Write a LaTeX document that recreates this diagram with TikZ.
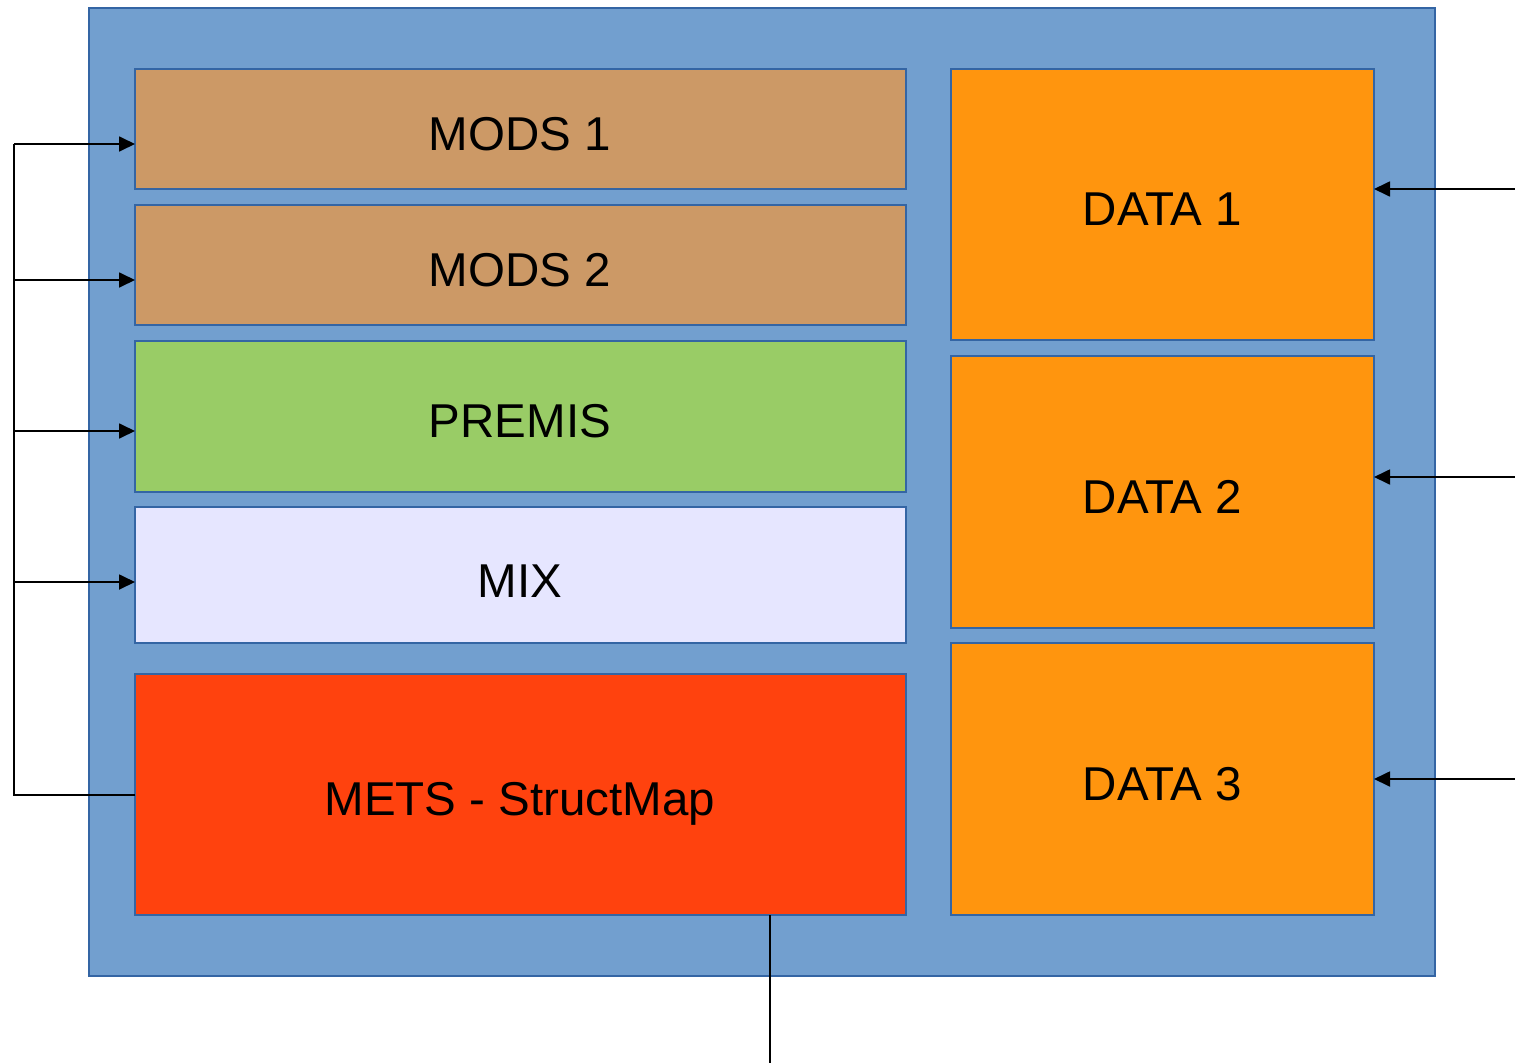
\documentclass[tikz,border=0pt]{standalone}
\usepackage{fontspec}
\setmainfont{Liberation Sans}
\usetikzlibrary{arrows.meta}
\definecolor{outerc}{HTML}{729FCF}
\definecolor{borderc}{HTML}{3465A4}
\definecolor{modsc}{HTML}{CC9966}
\definecolor{premisc}{HTML}{99CC66}
\definecolor{mixc}{HTML}{E6E6FF}
\definecolor{metsc}{HTML}{FF420E}
\definecolor{datac}{HTML}{FF950E}
\begin{document}
\begin{tikzpicture}[x=1pt,y=-1pt,
  box/.style={draw=borderc, line width=1.5pt, rectangle, inner sep=0pt, outer sep=0pt},
  lbl/.style={anchor=base, inner sep=0pt, font=\fontsize{47.5}{57}\selectfont},
  conn/.style={draw=black, line width=1.8pt},
  arr/.style={conn, -{Triangle[length=16pt,width=15pt]}}]
\useasboundingbox (0,0) rectangle (1515,1063);
\node[box, draw=borderc, line width=2pt, fill=outerc, minimum width=1346, minimum height=968] (outer) at (762,492) {};
% left column
\node[box, fill=modsc, minimum width=771, minimum height=120] (mods1) at (520.5,129) {};
\node[box, fill=modsc, minimum width=771, minimum height=120] (mods2) at (520.5,265) {};
\node[box, fill=premisc, minimum width=771, minimum height=151] (premis) at (520.5,416.5) {};
\node[box, fill=mixc, minimum width=771, minimum height=136] (mix) at (520.5,575) {};
\node[box, fill=metsc, minimum width=771, minimum height=241] (mets) at (520.5,794.5) {};
% right column
\node[box, fill=datac, minimum width=423, minimum height=271] (data1) at (1162.5,204.5) {};
\node[box, fill=datac, minimum width=423, minimum height=272] (data2) at (1162.5,492) {};
\node[box, fill=datac, minimum width=423, minimum height=272] (data3) at (1162.5,779) {};
% labels
\node[lbl] (tmods1) at (520,150) {MODS 1};
\node[lbl] (tmods2) at (520,286) {MODS 2};
\node[lbl] (tpremis) at (520,437) {PREMIS};
\node[lbl] (tmix) at (520,597) {MIX};
\node[lbl] (tmets) at (520,815) {METS - StructMap};
\node[lbl] (tdata1) at (1162.5,225) {DATA 1};
\node[lbl] (tdata2) at (1162.5,513) {DATA 2};
\node[lbl] (tdata3) at (1162.5,800) {DATA 3};
% connectors
\coordinate (b1) at (14,144);
\coordinate (b2) at (14,280);
\coordinate (b3) at (14,431);
\coordinate (b4) at (14,582);
\coordinate (b5) at (14,795);
\draw[conn] (b5 -| mets.west) -- (b5) -- (b1);
\draw[arr] (b1) -- (b1 -| mods1.west);
\draw[arr] (b2) -- (b2 -| mods2.west);
\draw[arr] (b3) -- (b3 -| premis.west);
\draw[arr] (b4) -- (b4 -| mix.west);
\coordinate (r1) at (1515,189);
\coordinate (r2) at (1515,477);
\coordinate (r3) at (1515,779);
\draw[arr] (r1) -- (r1 -| data1.east);
\draw[arr] (r2) -- (r2 -| data2.east);
\draw[arr] (r3) -- (r3 -| data3.east);
\coordinate (bot) at (770,1063);
\draw[conn] (bot |- mets.south) -- (bot);
\end{tikzpicture}
\end{document}
